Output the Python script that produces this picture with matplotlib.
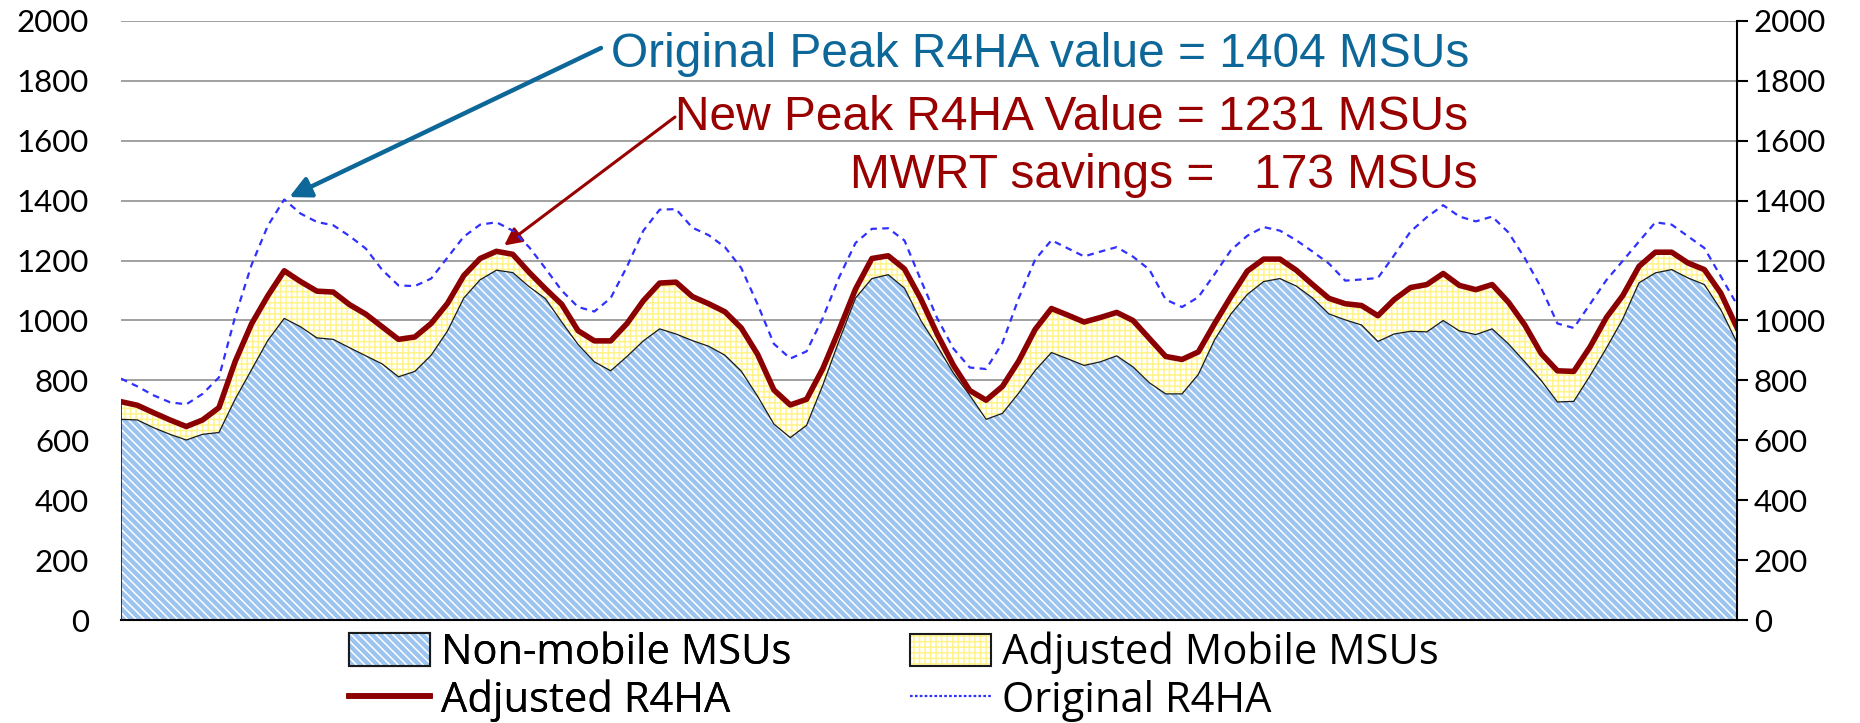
import numpy as np
import matplotlib
matplotlib.use("Agg")
import matplotlib.pyplot as plt
from matplotlib.patches import Rectangle
from matplotlib.lines import Line2D
from matplotlib.legend_handler import HandlerTuple

# hourly values (MSUs)
non_mobile = [670, 668, 642, 620, 601, 620, 626, 738, 836, 934,
              1007, 979, 942, 937, 909, 882, 855, 812, 830, 884,
              965, 1075, 1136, 1168, 1160, 1113, 1073, 995, 920, 862,
              832, 880, 932, 972, 955, 933, 914, 884, 831, 747,
              654, 609, 650, 785, 934, 1075, 1140, 1153, 1108, 1000,
              915, 824, 750, 670, 690, 758, 833, 893, 872, 850,
              862, 882, 845, 792, 755, 755, 820, 936, 1022, 1087,
              1130, 1140, 1115, 1075, 1022, 1002, 985, 930, 955, 964,
              962, 1000, 965, 953, 972, 922, 862, 800, 728, 730,
              816, 908, 1005, 1126, 1159, 1170, 1142, 1120, 1037, 926]

adjusted_r4ha = [729, 717, 692, 668, 646, 668, 709, 864, 989, 1083,
                 1166, 1130, 1098, 1095, 1053, 1021, 979, 937, 945, 990,
                 1057, 1150, 1207, 1231, 1221, 1161, 1106, 1054, 966, 932,
                 932, 990, 1066, 1125, 1128, 1080, 1056, 1029, 975, 887,
                 768, 718, 737, 840, 970, 1105, 1207, 1216, 1172, 1072,
                 955, 850, 766, 734, 780, 865, 970, 1040, 1018, 995,
                 1010, 1027, 1000, 940, 880, 870, 895, 990, 1080, 1165,
                 1205, 1205, 1168, 1120, 1074, 1056, 1050, 1016, 1070, 1110,
                 1120, 1157, 1117, 1103, 1120, 1061, 985, 890, 832, 830,
                 912, 1010, 1083, 1181, 1228, 1228, 1192, 1170, 1092, 976]

original_r4ha = [806, 780, 750, 727, 720, 755, 810, 1014, 1186, 1317,
                 1404, 1357, 1329, 1318, 1282, 1240, 1169, 1117, 1115, 1140,
                 1210, 1280, 1320, 1328, 1300, 1245, 1174, 1100, 1045, 1030,
                 1075, 1180, 1300, 1370, 1372, 1310, 1285, 1245, 1175, 1054,
                 922, 873, 897, 1009, 1145, 1259, 1306, 1308, 1267, 1135,
                 1008, 906, 843, 838, 925, 1075, 1203, 1268, 1241, 1214,
                 1230, 1245, 1213, 1170, 1070, 1045, 1078, 1155, 1235, 1283,
                 1312, 1300, 1268, 1230, 1190, 1133, 1137, 1142, 1218, 1297,
                 1345, 1385, 1347, 1331, 1347, 1294, 1208, 1110, 990, 975,
                 1055, 1135, 1199, 1264, 1328, 1320, 1281, 1242, 1148, 1053]

y_ticks = list(range(0, 2001, 200))
labels = ["Non-mobile MSUs", "Adjusted Mobile MSUs", "Adjusted R4HA", "Original R4HA"]
note_orig = "Original Peak R4HA value = 1404 MSUs"
note_new = "New Peak R4HA Value = 1231 MSUs"
note_save = "MWRT savings =   173 MSUs"

plt.rcParams['font.family'] = ['Lato', 'DejaVu Sans']
plt.rcParams['hatch.linewidth'] = 1.1

blue_face = '#9cc4ef'
yellow_line = '#fff38a'
red = '#8b0000'
dot_blue = '#3030ff'

W, H = 1860, 723
fig = plt.figure(figsize=(W / 100, H / 100), dpi=100)
ax = fig.add_axes([121 / W, 1 - 620 / H, (1737 - 121) / W, (620 - 21) / H])

x = np.arange(len(non_mobile))
ax.fill_between(x, 0, non_mobile, facecolor=blue_face, edgecolor='white',
                hatch='\\\\\\\\', linewidth=0, zorder=2)
ax.fill_between(x, non_mobile, adjusted_r4ha, facecolor='white', edgecolor=yellow_line,
                hatch='+++', linewidth=0, zorder=2)
ax.plot(x, non_mobile, color='#1a1a1a', lw=0.9, zorder=3)
ax.plot([x[0], x[0]], [0, adjusted_r4ha[0]], color='#1a1a1a', lw=1.2, zorder=3)
ax.plot(x, original_r4ha, color=dot_blue, lw=1.6, ls=(0, (3.0, 2.4)), zorder=4)
ax.plot(x, adjusted_r4ha, color=red, lw=4, zorder=5)

ax.set_xlim(x[0], x[-1])
ax.set_ylim(0, 2000)
ax.set_yticks(y_ticks)
ax.set_xticks([])
ax.yaxis.grid(True, color='#999999', lw=1.3)
ax.set_axisbelow(True)
ax.tick_params(axis='y', length=0, pad=23, labelsize=22.5)
for s in ['left', 'top', 'right']:
    ax.spines[s].set_visible(False)
ax.spines['bottom'].set_linewidth(1.5)

ax2 = ax.twinx()
ax2.set_ylim(0, 2000)
ax2.set_yticks(y_ticks)
for s in ['left', 'top', 'bottom']:
    ax2.spines[s].set_visible(False)
ax2.spines['right'].set_linewidth(1.5)
ax2.tick_params(axis='y', length=8, width=1.5, pad=4, labelsize=22.5)

# annotations
sans = 'Liberation Sans'
fig.text(1469 / W, 1 - 67 / H, note_orig, color='#0d6798', fontsize=34.5,
         family=sans, ha='right', va='baseline')
fig.text(1468 / W, 1 - 130 / H, note_new, color='#990000', fontsize=34.5,
         family=sans, ha='right', va='baseline')
fig.text(1478 / W, 1 - 188 / H, note_save, color='#990000', fontsize=34.5,
         family=sans, ha='right', va='baseline')

i_orig = int(np.argmax(original_r4ha))
ax.annotate('', xy=(x[i_orig], original_r4ha[i_orig]), xycoords='data',
            xytext=(601 / W, 1 - 48 / H), textcoords='figure fraction',
            arrowprops=dict(arrowstyle='-|>', color='#0d6798', lw=3.2,
                            mutation_scale=32, shrinkA=0, shrinkB=4))
i_adj = int(np.argmax(adjusted_r4ha))
ax.annotate('', xy=(x[i_adj], adjusted_r4ha[i_adj]), xycoords='data',
            xytext=(675 / W, 1 - 117 / H), textcoords='figure fraction',
            arrowprops=dict(arrowstyle='-|>', color='#990000', lw=2.2,
                            mutation_scale=26, shrinkA=0, shrinkB=7))

# legend
h_nm = (Rectangle((0, 0), 1, 1, facecolor=blue_face, edgecolor='white',
                  hatch='\\\\\\\\', lw=0),
        Rectangle((0, 0), 1, 1, fill=False, edgecolor='#1a1a1a', lw=1.5))
h_mob = (Rectangle((0, 0), 1, 1, facecolor='white', edgecolor=yellow_line,
                   hatch='+++', lw=0),
         Rectangle((0, 0), 1, 1, fill=False, edgecolor='#1a1a1a', lw=1.5))
h_adj = Line2D([], [], color=red, lw=4)
h_org = Line2D([], [], color=dot_blue, lw=1.6, ls=(0, (1.2, 1.0)))

leg_font = {'family': ['Open Sans', 'DejaVu Sans'], 'size': 30}
common = dict(frameon=False, prop=leg_font, handlelength=1.95, handleheight=0.82,
              handletextpad=0.25, labelspacing=0.12, borderaxespad=0, borderpad=0,
              loc='upper left', handler_map={tuple: HandlerTuple(ndivide=1)})
leg1 = fig.legend([h_nm, h_adj], [labels[0], labels[2]],
                  bbox_to_anchor=(349 / W, 1 - 632 / H), **common)
fig.add_artist(leg1)
fig.legend([h_mob, h_org], [labels[1], labels[3]],
           bbox_to_anchor=(910 / W, 1 - 632 / H), **common)

fig.savefig('out.png', dpi=100, facecolor='white')
